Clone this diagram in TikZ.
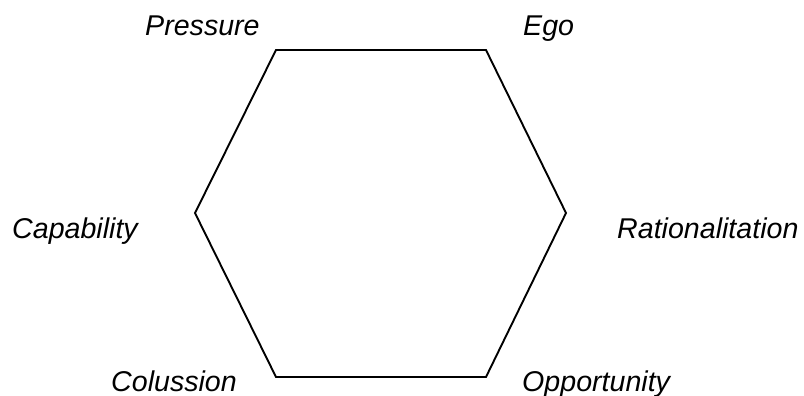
\documentclass[tikz,border=0pt]{standalone}
\usepackage{fontspec}
\setmainfont{Liberation Sans}
\begin{document}
\begin{tikzpicture}[x=1pt,y=-1pt,
  lbl/.style={anchor=base west,inner sep=0pt,font=\fontsize{28.6}{32}\selectfont\itshape},
  hex/.style={draw=black,line width=1.9pt,line join=miter}]
\useasboundingbox (0,0) rectangle (804,396);
\coordinate (tl) at (276,50);
\coordinate (tr) at (486,50);
\coordinate (r) at (566,213);
\coordinate (br) at (486,377);
\coordinate (bl) at (276,377);
\coordinate (l) at (195,213);
\draw[hex] (tl) -- (tr) -- (r) -- (br) -- (bl) -- (l) -- cycle;
\node[lbl] (pressure) at (145,36) {Pressure};
\node[lbl] (ego) at (523,36) {Ego};
\node[lbl] (capability) at (12,238) {Capability};
\node[lbl] (rational) at (617,238) {Rationalitation};
\node[lbl] (colussion) at (111,391) {Colussion};
\node[lbl] (opportunity) at (522,391) {Opportunity};
\end{tikzpicture}
\end{document}
